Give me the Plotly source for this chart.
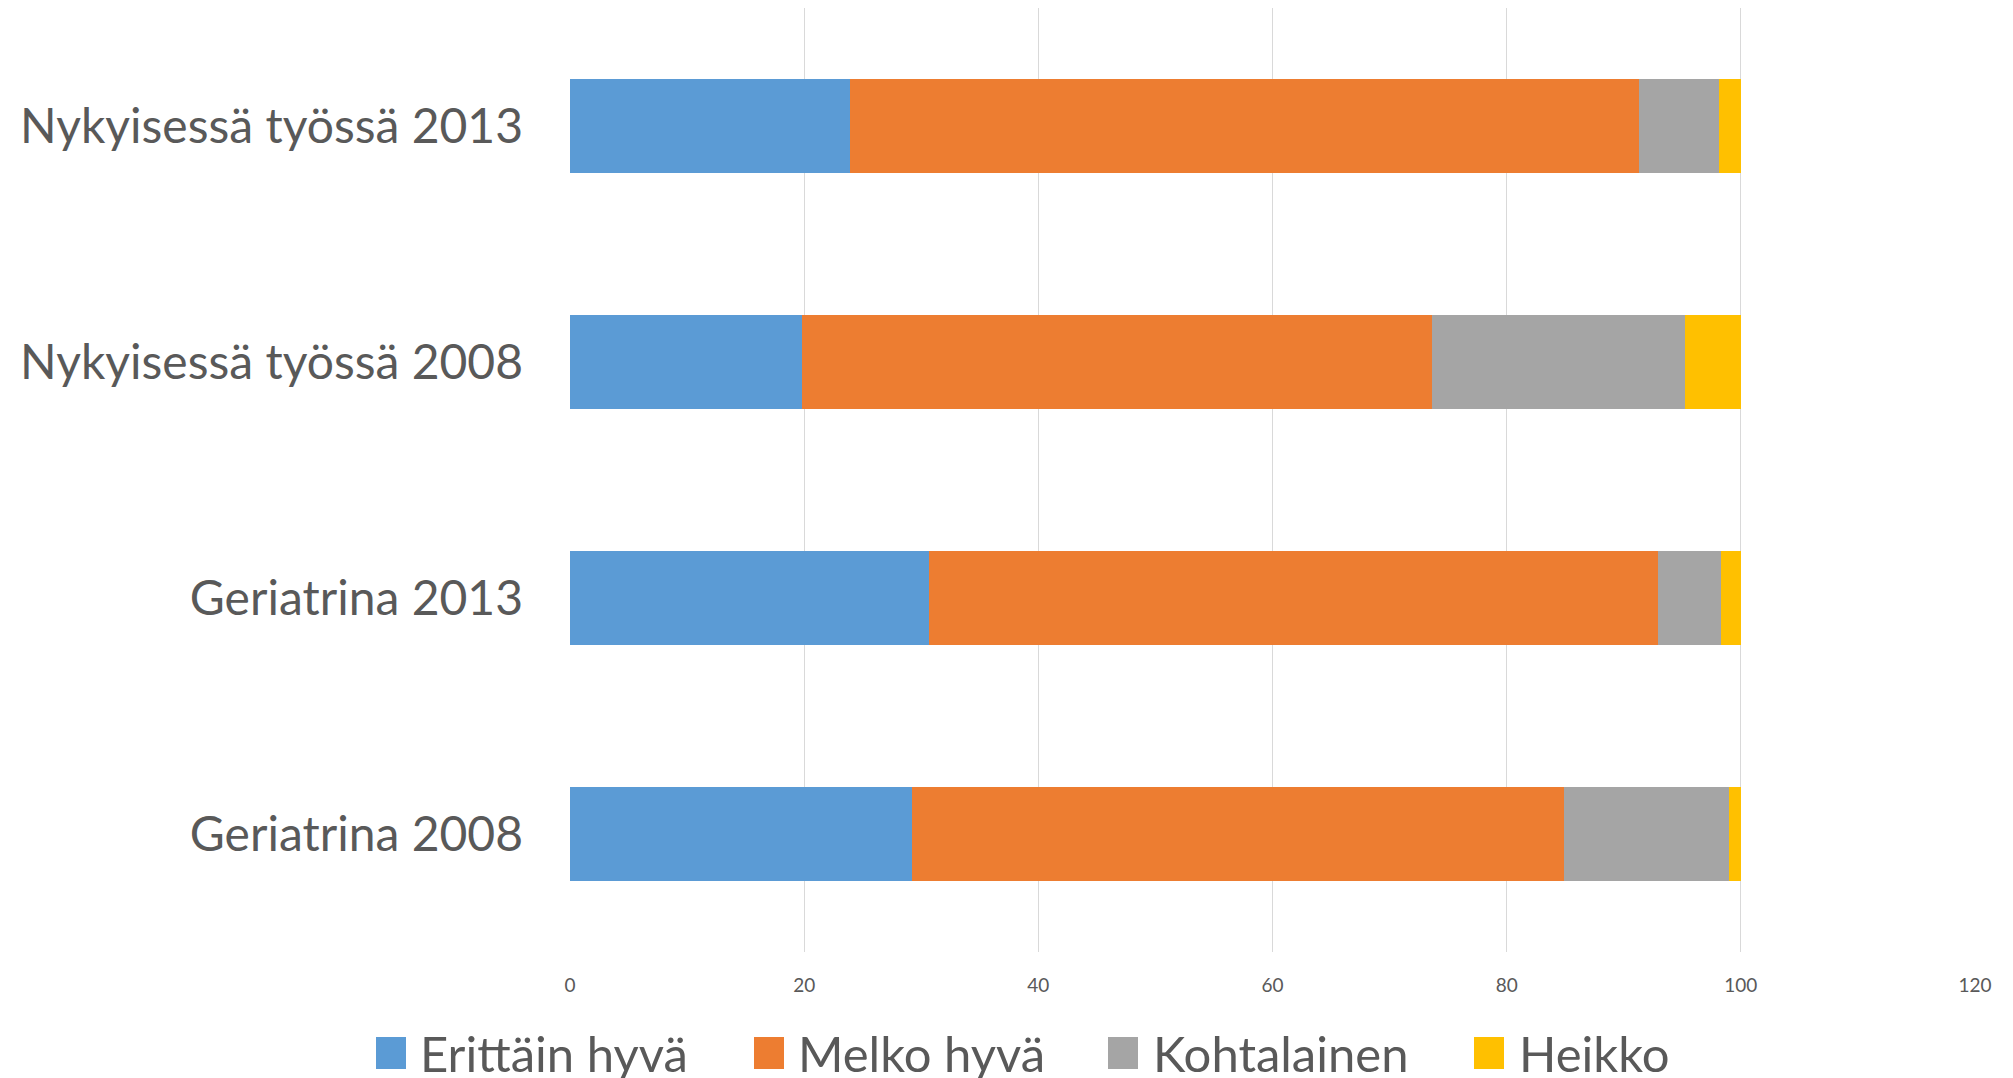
import plotly.graph_objects as go

categories = ["Geriatrina 2008", "Geriatrina 2013", "Nykyisessä työssä 2008", "Nykyisessä työssä 2013"]
series_names = ["Erittäin hyvä", "Melko hyvä", "Kohtalainen", "Heikko"]
erittain_hyva = [29.2, 30.7, 19.8, 23.9]
melko_hyva = [55.7, 62.2, 53.8, 67.4]
kohtalainen = [14.1, 5.4, 21.6, 6.8]
heikko = [1.0, 1.7, 4.8, 1.9]
colors = ["#5B9BD5", "#ED7D31", "#A5A5A5", "#FFC000"]
x_ticks = [0, 20, 40, 60, 80, 100, 120]

W, H = 2013, 1078
OFF = 8  # page body margin
L, R, T, B = 570 - OFF, 38 + OFF, 0, 126 + OFF
FONT = "Lato"
TXT = "#595959"

fig = go.Figure()
for name, vals, col in zip(series_names, [erittain_hyva, melko_hyva, kohtalainen, heikko], colors):
    fig.add_trace(go.Bar(y=categories, x=vals, name=name, orientation="h",
                         marker=dict(color=col, line=dict(width=0)), showlegend=False))

fig.update_layout(
    width=W, height=H, barmode="stack", bargap=0.6,
    margin=dict(l=L, r=R, t=T, b=B, autoexpand=False),
    paper_bgcolor="white", plot_bgcolor="white",
    font=dict(family=FONT, color=TXT),
)
fig.update_xaxes(range=[0, 120], tickvals=x_ticks, showgrid=True, gridcolor="#D9D9D9", gridwidth=1,
                 zeroline=False, showline=False, tickfont=dict(size=19, color=TXT),
                 ticklabelstandoff=20)
fig.update_yaxes(range=[-0.5, 3.5], showgrid=False, zeroline=False, showline=False,
                 tickfont=dict(size=48, color=TXT), ticklabelstandoff=46)

pw = W - L - R
ph = H - T - B
def px_x(p):
    return (p - OFF - L) / pw
def px_y(p):
    return (H - B - (p - OFF)) / ph

sq_x = [376, 754, 1108, 1474]
tx_x = [418, 796, 1151, 1517]
shapes = []
annotations = []
for i, name in enumerate(series_names):
    shapes.append(dict(type="rect", xref="paper", yref="paper",
                       x0=px_x(sq_x[i]), x1=px_x(sq_x[i] + 30), y0=px_y(1069), y1=px_y(1037),
                       fillcolor=colors[i], line=dict(width=0)))
    annotations.append(dict(text=name, xref="paper", yref="paper", x=px_x(tx_x[i]), y=px_y(1053),
                            xanchor="left", yanchor="middle", showarrow=False,
                            font=dict(size=49, color=TXT, family=FONT)))
fig.update_layout(shapes=shapes, annotations=annotations)

fig.write_html("out.html")
